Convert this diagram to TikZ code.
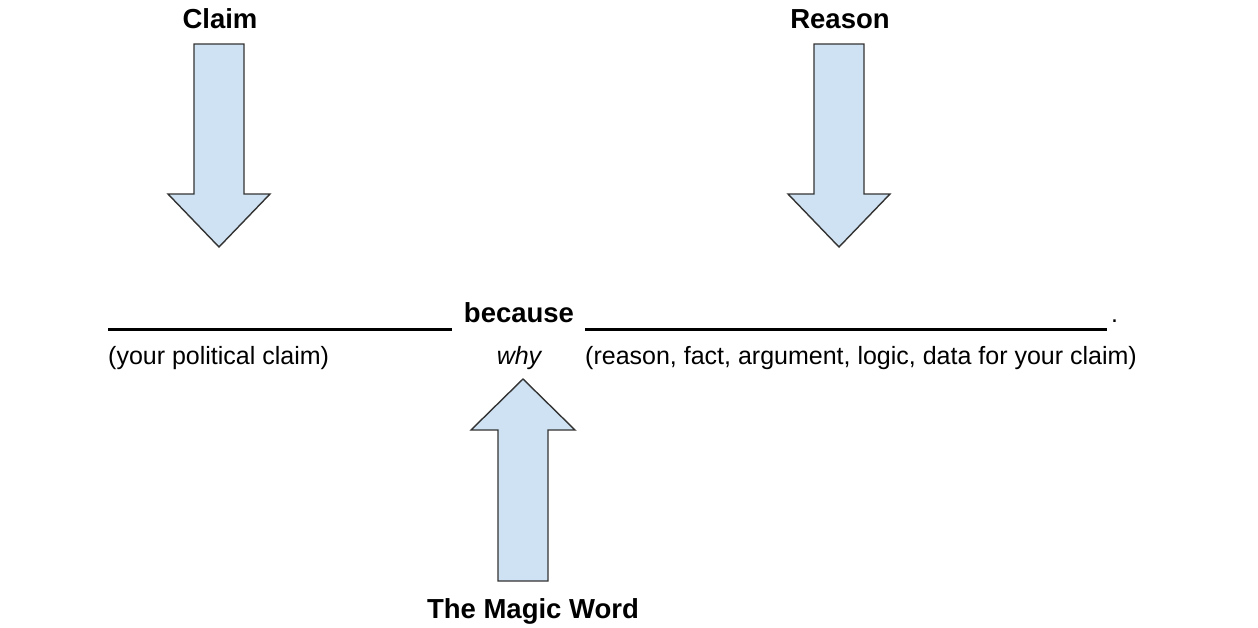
\documentclass[tikz,border=0pt]{standalone}
\usepackage{fontspec}
\setmainfont{Liberation Sans}
\begin{document}
\begin{tikzpicture}[x=1pt,y=-1pt,
  bigarrow/.style={fill=arrowblue, draw=arrowline, line width=1.4pt, line join=miter},
  regtext/.style={font=\fontsize{25}{30}\selectfont, inner sep=0pt, anchor=base},
  boldtext/.style={font=\fontsize{27.5}{33}\selectfont\bfseries, inner sep=0pt, anchor=base},
  blank/.style={line width=3pt}]
\definecolor{arrowblue}{HTML}{CFE2F3}
\definecolor{arrowline}{HTML}{333333}
\useasboundingbox (0,0) rectangle (1258,627);
% labels
\node[boldtext] (claim) at (220,28) {Claim};
\node[boldtext] (reason) at (840,28) {Reason};
\node[boldtext] (magic) at (533,618) {The Magic Word};
% arrows
\draw[bigarrow] (194,44) -- (244,44) -- (244,194) -- (270,194) -- (219,247) -- (168,194) -- (194,194) -- cycle;
\draw[bigarrow] (814,44) -- (864,44) -- (864,194) -- (890,194) -- (839,247) -- (788,194) -- (814,194) -- cycle;
\draw[bigarrow] (498,581) -- (548,581) -- (548,430) -- (575,430) -- (523,379) -- (471,430) -- (498,430) -- cycle;
% sentence
\coordinate (b1s) at (108,329);
\coordinate (b1e) at (452,329);
\coordinate (b2s) at (585,329);
\coordinate (b2e) at (1107,329);
\draw[blank] (b1s) -- (b1e);
\draw[blank] (b2s) -- (b2e);
\node[boldtext] (because) at (519,322) {because};
\node[regtext, anchor=base west] (dot) at (1111,322) {.};
\node[regtext, anchor=base west] (yourclaim) at (108,364) {(your political claim)};
\node[regtext] (why) at (519,364) {\itshape why};
\node[regtext, anchor=base west] (reasontext) at (585,364) {(reason, fact, argument, logic, data for your claim)};
\end{tikzpicture}
\end{document}
